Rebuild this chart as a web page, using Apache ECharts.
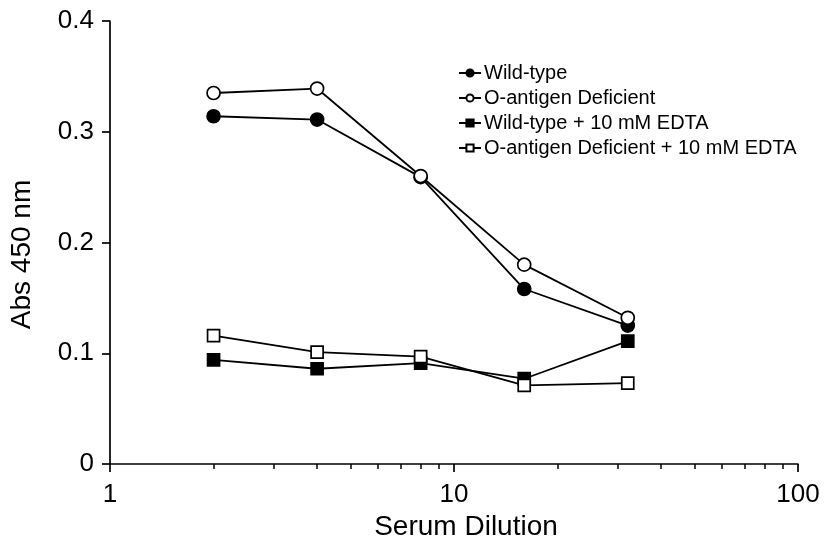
<!DOCTYPE html>
<html>
<head>
<meta charset="utf-8">
<script src="https://cdn.jsdelivr.net/npm/echarts@6/dist/echarts.min.js"></script>
<style>
html,body{margin:0;padding:0;background:#fff;}
#chart{width:827px;height:548px;}
</style>
</head>
<body>
<div id="chart"></div>
<script>
const dilutions = [2, 4, 8, 16, 32];
const wildType = [0.314, 0.311, 0.259, 0.158, 0.125];
const oAntigen = [0.335, 0.339, 0.260, 0.180, 0.132];
const wildTypeEDTA = [0.094, 0.086, 0.091, 0.077, 0.111];
const oAntigenEDTA = [0.116, 0.101, 0.097, 0.071, 0.073];
const seriesNames = ['Wild-type', 'O-antigen Deficient', 'Wild-type + 10 mM EDTA', 'O-antigen Deficient + 10 mM EDTA'];
const yTicks = [0, 0.1, 0.2, 0.3, 0.4];
const xMajorTicks = [1, 10, 100];
const xMinorTicks = [2, 3, 4, 5, 6, 7, 8, 9, 20, 30, 40, 50, 60, 70, 80, 90];

const FONT = '"Liberation Sans", Arial, sans-serif';
const pair = (ys) => dilutions.map((x, i) => [x, ys[i]]);

function mkSeries(name, ys, symbol, fill) {
  return {
    name: name,
    type: 'line',
    data: pair(ys),
    symbol: symbol,
    symbolSize: symbol === 'rect' ? 12 : 13,
    showSymbol: true,
    lineStyle: { color: '#000', width: 1.8 },
    itemStyle: { color: fill, borderColor: '#000', borderWidth: 1.7 },
    emphasis: { disabled: true },
    animation: false,
    z: 3
  };
}

const chart = echarts.init(document.getElementById('chart'), null, { renderer: 'canvas' });
chart.setOption({
  backgroundColor: '#fff',
  animation: false,
  grid: { left: 110, right: 29, top: 21, bottom: 84, containLabel: false },
  legend: {
    show: true,
    left: 453,
    top: 58,
    orient: 'vertical',
    itemWidth: 22,
    itemHeight: 9,
    itemGap: 5,
    data: seriesNames,
    textStyle: { fontFamily: FONT, fontSize: 20, color: '#000', padding: [0, 0, 0, -2] }
  },
  xAxis: [
    {
      type: 'log',
      logBase: 10,
      min: 1,
      max: 100,
      position: 'bottom',
      name: 'Serum Dilution',
      nameLocation: 'middle',
      nameGap: 40,
      nameTextStyle: { fontFamily: FONT, fontSize: 28, color: '#000', padding: [0, 0, 0, 24] },
      axisLine: { show: true, onZero: false, lineStyle: { color: '#000', width: 1.7 } },
      axisTick: { show: true, length: 8, customValues: xMajorTicks, lineStyle: { color: '#000', width: 1.7 } },
      axisLabel: { show: true, customValues: xMajorTicks, margin: 18, fontFamily: FONT, fontSize: 26, color: '#000' },
      splitLine: { show: false },
      minorTick: { show: false }
    },
    {
      type: 'log',
      logBase: 10,
      min: 1,
      max: 100,
      position: 'bottom',
      gridIndex: 0,
      axisLine: { show: false, onZero: false },
      axisTick: { show: true, length: 5, customValues: xMinorTicks, lineStyle: { color: '#000', width: 1.5 } },
      axisLabel: { show: false },
      splitLine: { show: false }
    }
  ],
  yAxis: {
    type: 'value',
    min: 0,
    max: 0.4,
    interval: 0.1,
    name: 'Abs 450 nm',
    nameLocation: 'middle',
    nameGap: 74,
    nameRotate: 90,
    nameTextStyle: { fontFamily: FONT, fontSize: 28, color: '#000', padding: [0, 24, 0, 0] },
    axisLine: { show: true, onZero: false, lineStyle: { color: '#000', width: 1.7 } },
    axisTick: { show: true, length: 8, lineStyle: { color: '#000', width: 1.7 } },
    axisLabel: {
      margin: 16, fontFamily: FONT, fontSize: 26, color: '#000',
      formatter: (v) => { const t = yTicks.find(a => Math.abs(a - v) < 1e-9); return t === 0 ? '0' : String(t); }
    },
    splitLine: { show: false }
  },
  series: [
    mkSeries(seriesNames[0], wildType, 'circle', '#000'),
    mkSeries(seriesNames[1], oAntigen, 'circle', '#fff'),
    mkSeries(seriesNames[2], wildTypeEDTA, 'rect', '#000'),
    mkSeries(seriesNames[3], oAntigenEDTA, 'rect', '#fff')
  ]
});
</script>
</body>
</html>
